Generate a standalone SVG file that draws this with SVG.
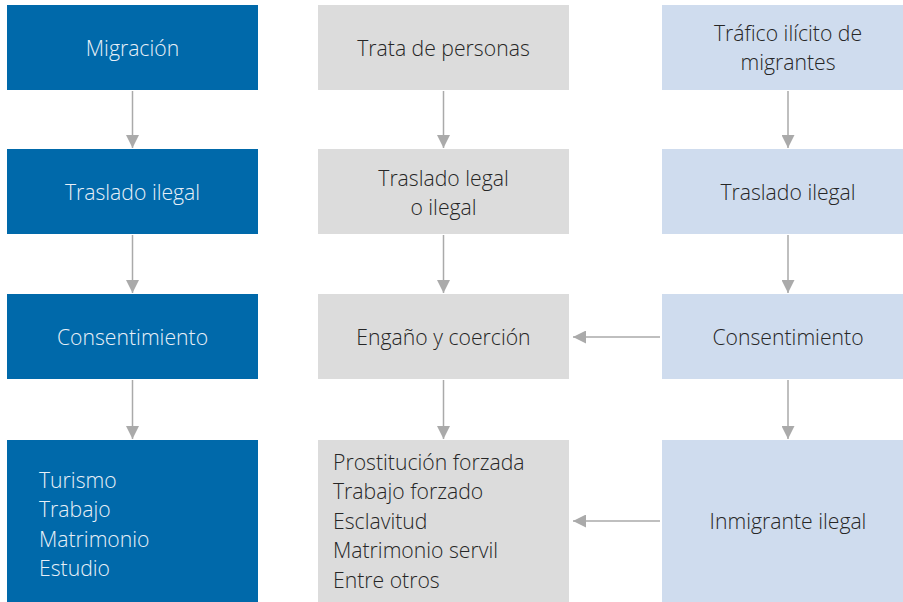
<svg xmlns="http://www.w3.org/2000/svg" width="903" height="602" viewBox="0 0 903 602">
<style>
.b{fill:#0069aa}
.g{fill:#dcdcdc}
.l{fill:#cfdcee}
text{font-family:"Open Sans","Liberation Sans",sans-serif;font-weight:300;font-size:21.2px;dominant-baseline:central}
.w{fill:#e8f0f8}
.d{fill:#262626}
.c{text-anchor:middle}
.con line{stroke:#aaaaaa;stroke-width:1.5}
</style>
<defs>
<marker id="ah" viewBox="0 0 10 10" refX="10" refY="5" markerWidth="13" markerHeight="13" markerUnits="userSpaceOnUse" orient="auto">
<path d="M0,0 L10,5 L0,10 Z" fill="#aaaaaa"/>
</marker>
</defs>
<g id="n1"><rect class="b" x="7" y="5" width="251" height="85"/><text class="w c" x="132.5" y="47">Migración</text></g>
<g id="n2"><rect class="b" x="7" y="149" width="251" height="85"/><text class="w c" x="132.5" y="191">Traslado ilegal</text></g>
<g id="n3"><rect class="b" x="7" y="294" width="251" height="85"/><text class="w c" x="132.5" y="336">Consentimiento</text></g>
<g id="n4"><rect class="b" x="7" y="440" width="251" height="162"/>
<text class="w" x="39" y="479">Turismo</text><text class="w" x="39" y="508.5">Trabajo</text><text class="w" x="39" y="538">Matrimonio</text><text class="w" x="39" y="567">Estudio</text></g>
<g id="n5"><rect class="g" x="318" y="5" width="251" height="85"/><text class="d c" x="443.5" y="47">Trata de personas</text></g>
<g id="n6"><rect class="g" x="318" y="149" width="251" height="85"/><text class="d c" x="443.5" y="177">Traslado legal</text><text class="d c" x="443.5" y="206">o ilegal</text></g>
<g id="n7"><rect class="g" x="318" y="294" width="251" height="85"/><text class="d c" x="443.5" y="336">Engaño y coerción</text></g>
<g id="n8"><rect class="g" x="318" y="440" width="251" height="162"/>
<text class="d" x="333" y="461">Prostitución forzada</text><text class="d" x="333" y="490.5">Trabajo forzado</text><text class="d" x="333" y="520">Esclavitud</text><text class="d" x="333" y="549.5">Matrimonio servil</text><text class="d" x="333" y="579">Entre otros</text></g>
<g id="n9"><rect class="l" x="662" y="5" width="241" height="85"/><text class="d c" x="788" y="32">Tráfico ilícito de</text><text class="d c" x="788" y="61">migrantes</text></g>
<g id="n10"><rect class="l" x="662" y="149" width="241" height="85"/><text class="d c" x="788" y="191">Traslado ilegal</text></g>
<g id="n11"><rect class="l" x="662" y="294" width="241" height="85"/><text class="d c" x="788" y="336">Consentimiento</text></g>
<g id="n12"><rect class="l" x="662" y="440" width="241" height="162"/><text class="d c" x="788" y="520">Inmigrante ilegal</text></g>
<g class="con" id="connectors">
<line x1="132.5" y1="91" x2="132.5" y2="148" marker-end="url(#ah)"/>
<line x1="132.5" y1="235" x2="132.5" y2="293" marker-end="url(#ah)"/>
<line x1="132.5" y1="380" x2="132.5" y2="439" marker-end="url(#ah)"/>
<line x1="443.5" y1="91" x2="443.5" y2="148" marker-end="url(#ah)"/>
<line x1="443.5" y1="235" x2="443.5" y2="293" marker-end="url(#ah)"/>
<line x1="443.5" y1="380" x2="443.5" y2="439" marker-end="url(#ah)"/>
<line x1="788" y1="91" x2="788" y2="148" marker-end="url(#ah)"/>
<line x1="788" y1="235" x2="788" y2="293" marker-end="url(#ah)"/>
<line x1="788" y1="380" x2="788" y2="439" marker-end="url(#ah)"/>
<line x1="660" y1="337" x2="573" y2="337" marker-end="url(#ah)"/>
<line x1="660" y1="521" x2="573" y2="521" marker-end="url(#ah)"/>
</g>
</svg>
